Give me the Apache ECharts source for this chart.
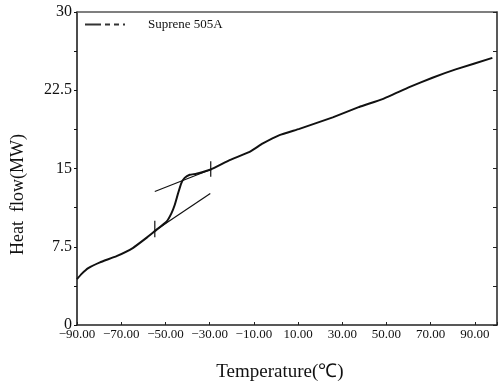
<!DOCTYPE html>
<html>
<head>
<meta charset="utf-8">
<script src="https://cdn.jsdelivr.net/npm/echarts@6/dist/echarts.min.js"></script>
<style>
  html, body { margin: 0; padding: 0; background: #fff; }
  #chart { width: 500px; height: 387px; }
</style>
</head>
<body>
<div id="chart"></div>
<script>
// DSC curve
const temps = [-90, -87.9, -84.9, -79.6, -72.1, -64.6, -58.6, -54.8, -49.5, -47.3, -45.8, -44.3, -42.8, -41.3, -39, -36, -29.5, -21, -11.9, -5.9, 1.6, 10.6, 25.7, 37.7, 48.2, 60.3, 70.8, 81.3, 97.9];
const heatFlow = [4.4, 4.9, 5.45, 6.0, 6.6, 7.4, 8.35, 9.0, 9.9, 10.7, 11.5, 12.6, 13.6, 14.1, 14.4, 14.5, 14.9, 15.8, 16.6, 17.4, 18.2, 18.8, 19.9, 20.9, 21.65, 22.8, 23.7, 24.5, 25.6];

// tangent lines of the glass transition
const upperTangentT = [-54.8, -29.5];
const upperTangentH = [12.8, 14.9];
const lowerTangentT = [-55, -29.7];
const lowerTangentH = [9.0, 12.6];

// short vertical marks (onset / end)
const onsetMarkT = [-54.8, -54.8];
const onsetMarkH = [8.4, 10.0];
const endMarkT = [-29.5, -29.5];
const endMarkH = [14.2, 15.7];

const seriesName = "Suprene 505A";

const pairs = (xs, ys) => xs.map((x, i) => [x, ys[i]]);

const chart = echarts.init(document.getElementById("chart"));

const serif = "Liberation Serif";

const thinLine = (name, xs, ys) => ({
  name: name,
  type: "line",
  data: pairs(xs, ys),
  symbol: "none",
  silent: true,
  lineStyle: { color: "#111", width: 1.2 },
  z: 3,
});

const option = {
  animation: false,
  backgroundColor: "#fff",
  grid: { left: 77, right: 2, top: 12, bottom: 59 },
  legend: {
    data: [seriesName],
    left: 80,
    top: 13,
    itemWidth: 40,
    itemHeight: 2,
    // dashed key as in the scan
    icon: "path://M0 0h16v2H0z M20 0h5v2h-5z M29 0h5v2h-5z M38 0h2v2h-2z",
    itemStyle: { color: "#333" },
    textStyle: {
      fontFamily: serif,
      fontSize: 13,
      color: "#111",
      padding: [0, 0, 0, 18],
    },
  },
  xAxis: [
    {
      type: "value",
      min: -90,
      max: 100,
      interval: 20,
      name: "Temperature(℃)",
      nameLocation: "middle",
      nameGap: 38,
      nameTextStyle: { fontFamily: serif, fontSize: 19, color: "#111", padding: [0, 14, 0, 0] },
      axisLine: { onZero: false, lineStyle: { color: "#222", width: 1.5 } },
      axisTick: { inside: true, length: 3, lineStyle: { color: "#222" } },
      splitLine: { show: false },
      axisLabel: {
        margin: 3,
        fontFamily: serif,
        fontSize: 13,
        color: "#111",
        formatter: (v) => {
          if (v > 95) return "";
          return (v < 0 ? "−" : "") + Math.abs(v).toFixed(2);
        },
      },
    },
    {
      type: "value",
      position: "top",
      min: -90,
      max: 100,
      axisLine: { show: true, onZero: false, lineStyle: { color: "#555", width: 1.5 } },
      axisTick: { show: false },
      axisLabel: { show: false },
      splitLine: { show: false },
    },
  ],
  yAxis: [
    {
      type: "value",
      min: 0,
      max: 30,
      interval: 3.75,
      name: "Heat  flow(MW)",
      nameLocation: "middle",
      nameGap: 50,
      nameTextStyle: {
        fontFamily: serif,
        fontSize: 18,
        color: "#111",
        padding: [0, 52, 0, 0],
      },
      axisLine: { show: true, onZero: false, lineStyle: { color: "#111", width: 1.5 } },
      axisTick: { length: 3, lineStyle: { color: "#111" } },
      splitLine: { show: false },
      axisLabel: {
        margin: 5,
        fontFamily: serif,
        fontSize: 16,
        color: "#111",
        formatter: (v) => (Math.abs(v / 7.5 - Math.round(v / 7.5)) < 1e-6 ? String(v) : ""),
      },
    },
    {
      type: "value",
      position: "right",
      min: 0,
      max: 30,
      interval: 3.75,
      axisLine: { show: true, onZero: false, lineStyle: { color: "#222", width: 1.5 } },
      axisTick: { inside: true, length: 4, lineStyle: { color: "#222" } },
      axisLabel: { show: false },
      splitLine: { show: false },
    },
  ],
  series: [
    {
      name: seriesName,
      type: "line",
      data: pairs(temps, heatFlow),
      symbol: "none",
      smooth: 0.12,
      itemStyle: { color: "#111" },
      lineStyle: { color: "#111", width: 2 },
      z: 4,
    },
    thinLine("upperTangent", upperTangentT, upperTangentH),
    thinLine("lowerTangent", lowerTangentT, lowerTangentH),
    thinLine("onsetMark", onsetMarkT, onsetMarkH),
    thinLine("endMark", endMarkT, endMarkH),
  ],
};

chart.setOption(option);

window.addEventListener("resize", () => {
  chart.resize();
});
</script>
</body>
</html>
